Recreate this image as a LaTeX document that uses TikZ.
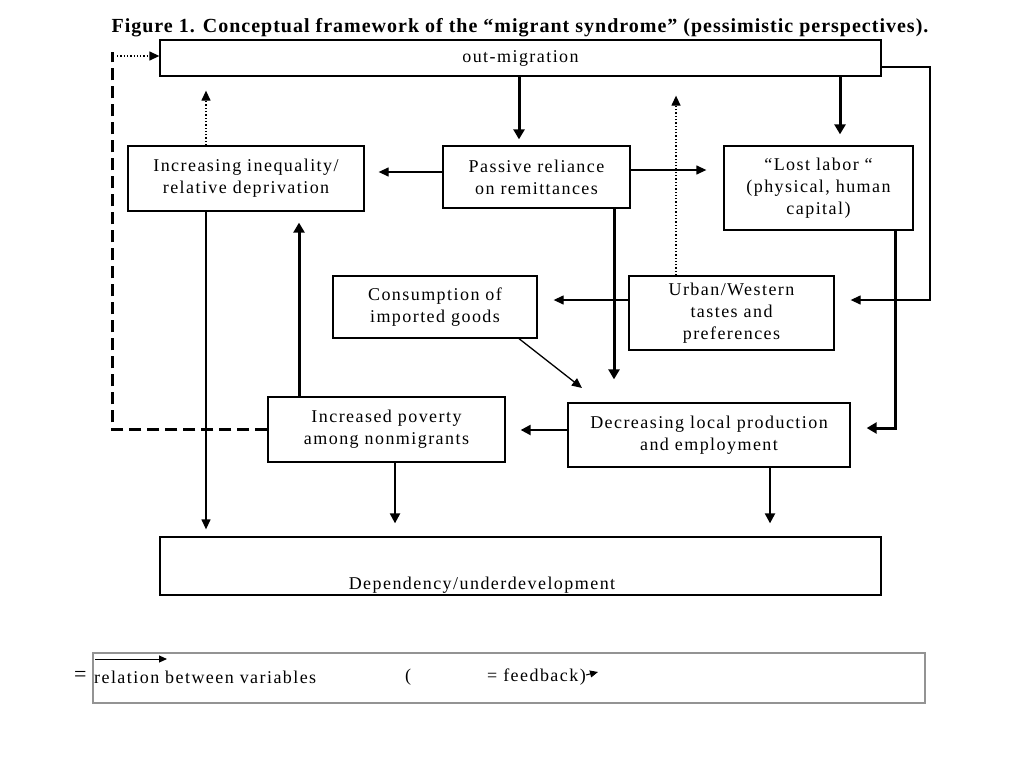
\documentclass[tikz,border=0pt]{standalone}
\usepackage{fontspec}
\setmainfont{Liberation Serif}
\newfontfamily\bxfont[LetterSpace=8]{Liberation Serif}
\newfontfamily\ttlfont[LetterSpace=5]{Liberation Serif}
\usetikzlibrary{arrows.meta}
\begin{document}
\begin{tikzpicture}[x=1pt,y=-1pt,
  box/.style={draw, line width=1.3pt, inner sep=0pt, align=center,
    font=\bxfont\fontsize{18}{22}\selectfont},
  txt/.style={inner sep=0pt, font=\bxfont\fontsize{18}{22}\selectfont},
  thinarr/.style={line width=1.3pt, -{Triangle[length=10pt,width=9pt]}},
  medarr/.style={line width=2.2pt, -{Triangle[length=10pt,width=10pt]}},
  thkarr/.style={line width=3pt, -{Triangle[length=10pt,width=11pt]}},
  dotarr/.style={line width=1.3pt, dotted, -{Triangle[length=10pt,width=9pt]}},
  dasharr/.style={line width=3pt, dash pattern=on 12pt off 6pt},
]
\useasboundingbox (0,0) rectangle (1024,768);
\fill[white] (0,0) rectangle (1024,768);

% title
\node[inner sep=0pt, font=\ttlfont\bfseries\fontsize{20}{22}\selectfont] (title) at (520,28)
  {Figure 1. Conceptual framework of the “migrant syndrome” (pessimistic perspectives).};

% boxes
\node[box, minimum width=721pt, minimum height=36pt] (om) at (520.5,58) {out-migration};
\node[box, minimum width=236pt, minimum height=65pt] (ineq) at (246,178.5)
  {Increasing inequality/\\relative deprivation};
\node[box, minimum width=187pt, minimum height=62pt] (pass) at (536.5,177)
  {Passive reliance\\on remittances};
\node[box, minimum width=189pt, minimum height=84pt] (lost) at (818.5,188)
  {“Lost labor “\\(physical, human\\capital)};
\node[box, minimum width=204pt, minimum height=62pt] (cons) at (435,307)
  {Consumption of\\imported goods};
\node[box, minimum width=205pt, minimum height=74pt] (urban) at (731.5,313)
  {Urban/Western\\tastes and\\preferences};
\node[box, minimum width=237pt, minimum height=65pt] (pov) at (386.5,429.5)
  {Increased poverty\\among nonmigrants};
\node[box, minimum width=282pt, minimum height=64pt] (dec) at (709,435)
  {Decreasing local production\\and employment};
\node[box, minimum width=721pt, minimum height=58pt] (dep) at (520.5,566) {};
\node[txt] (deptxt) at (482,585) {Dependency/underdevelopment};

% connectors
\draw[thkarr, shorten >=6pt] (om.south -| 519,0) -- (pass.north -| 519,0);
\draw[thkarr, shorten >=11pt] (om.south -| 840,0) -- (lost.north -| 840,0);
\draw[thinarr, shorten >=16pt] (om.east |- 0,67) -- (930,67) -- (930,300) -- (urban.east |- 0,300);
\draw[thinarr, shorten >=14pt] (pass.west |- 0,172) -- (ineq.east |- 0,172);
\draw[thinarr, shorten >=17pt] (pass.east |- 0,170) -- (lost.west |- 0,170);
\draw[dotarr, shorten >=19pt] (urban.north -| 676,0) -- (om.south -| 676,0);
\draw[dotarr, shorten >=14pt] (ineq.north -| 206,0) -- (om.south -| 206,0);
\draw[thinarr, shorten >=16pt] (urban.west |- 0,300) -- (cons.east |- 0,300);
\draw[thkarr, shorten >=23pt] (pass.south -| 614,0) -- (dec.north -| 614,0);
\draw[thkarr, shorten >=16pt] (lost.south -| 895,0) -- (895,428) -- (dec.east |- 0,428);
\coordinate (dectgt) at (582,388);
\draw[thinarr] (cons.south -| 519,0) -- (dectgt);
\draw[thkarr, shorten >=11pt] (pov.north -| 299,0) -- (ineq.south -| 299,0);
\draw[thinarr, shorten >=7pt] (ineq.south -| 206,0) -- (dep.north -| 206,0);
\draw[medarr, shorten >=15pt] (dec.west |- 0,430) -- (pov.east |- 0,430);
\draw[medarr, shorten >=13pt] (pov.south -| 395,0) -- (dep.north -| 395,0);
\draw[medarr, shorten >=13pt] (dec.south -| 770,0) -- (dep.north -| 770,0);
% feedback to out-migration
\draw[dasharr] (pov.west |- 0,429) -- (112,429) -- (112,52);
\draw[dotarr] (117,56) -- (om.west |- 0,56);

% legend
\node[draw=gray!85, line width=2pt, minimum width=832pt, minimum height=50pt, inner sep=0pt] (leg) at (509,678) {};
\node[txt, anchor=west, font=\fontsize{22}{22}\selectfont] (legeq) at (74,676) {=};
\node[txt, anchor=west] (legA) at (94,677) {relation between variables};
\node[txt] (legB) at (408,677) {(};
\node[txt, anchor=west] (legC) at (487,677) {= feedback)};
\coordinate (la1) at (95,659);
\coordinate (la2) at (167,659);
\draw[line width=1pt, -{Triangle[length=8pt,width=7pt]}] (la1) -- (la2);
\coordinate (lb1) at (586,675);
\coordinate (lb2) at (598,672);
\draw[line width=1pt, -{Triangle[length=8pt,width=7pt]}] (lb1) -- (lb2);
\end{tikzpicture}
\end{document}
